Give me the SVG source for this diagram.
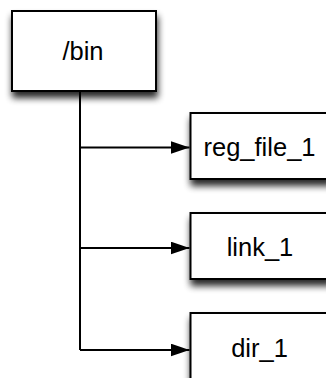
<svg xmlns="http://www.w3.org/2000/svg" width="326" height="378" viewBox="0 0 326 378">
  <defs>
    <filter id="drop" x="-20%" y="-20%" width="140%" height="160%">
      <feGaussianBlur in="SourceAlpha" stdDeviation="3.5"/>
      <feOffset dx="1" dy="6" result="blur"/>
      <feComponentTransfer>
        <feFuncA type="linear" slope="0.85"/>
      </feComponentTransfer>
      <feMerge>
        <feMergeNode/>
        <feMergeNode in="SourceGraphic"/>
      </feMerge>
    </filter>
    <marker id="arrow" viewBox="0 0 19 13" refX="19" refY="6.5" markerWidth="19" markerHeight="13" markerUnits="userSpaceOnUse" orient="auto">
      <path d="M0,0 L19,6.5 L0,13 Z" fill="#000"/>
    </marker>
    <style>
      .box { fill: #fff; stroke: #000; stroke-width: 2; }
      .label { font-family: "Liberation Sans", Arial, Helvetica, sans-serif; font-size: 25.5px; fill: #000; text-anchor: middle; }
      .link { fill: none; stroke: #000; stroke-width: 2; }
    </style>
  </defs>

  <!-- tree connectors from /bin to its entries -->
  <g id="connectors">
    <path class="link" d="M80,91 V350"/>
    <path class="link" d="M80,147.5 H189.5" marker-end="url(#arrow)"/>
    <path class="link" d="M80,248 H189.5" marker-end="url(#arrow)"/>
    <path class="link" d="M80,350 H189.5" marker-end="url(#arrow)"/>
  </g>

  <g id="bin">
    <rect class="box" x="12" y="11" width="144" height="80" filter="url(#drop)"/>
    <text class="label" x="83" y="60">/bin</text>
  </g>

  <g id="reg_file_1">
    <rect class="box" x="190.5" y="113" width="140" height="66" filter="url(#drop)"/>
    <text class="label" x="259.5" y="156">reg_file_1</text>
  </g>

  <g id="link_1">
    <rect class="box" x="190.5" y="213" width="140" height="66" filter="url(#drop)"/>
    <text class="label" x="260" y="256">link_1</text>
  </g>

  <g id="dir_1">
    <rect class="box" x="190.5" y="313" width="140" height="66" filter="url(#drop)"/>
    <text class="label" x="259.5" y="357">dir_1</text>
  </g>
</svg>
